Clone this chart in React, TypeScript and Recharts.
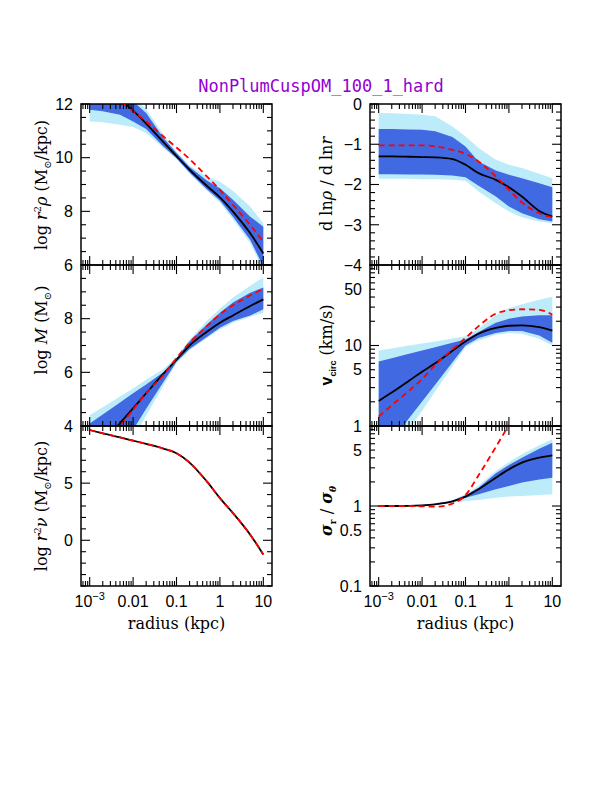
import React from 'react';
import { ComposedChart, Area, Line, XAxis, YAxis, ReferenceArea } from 'recharts';

const radius = [0.001, 0.002, 0.005, 0.01, 0.02, 0.05, 0.1, 0.2, 0.5, 1, 2, 5, 10];

// log r^2 rho
const rhoMed = [13.2, 12.75, 12.16, 11.75, 11.27, 10.58, 10.06, 9.55, 8.95, 8.52, 7.99, 7.18, 6.43];
const rhoTrue = [12.9, 12.5, 12.1, 11.73, 11.35, 10.79, 10.38, 9.95, 9.3, 8.8, 8.24, 7.49, 6.87];
const rhoIn = [[11.79, 12.6], [11.73, 12.7], [11.6, 12.5], [11.35, 12.1], [11.07, 11.66], [10.42, 10.73], [9.98, 10.17], [9.45, 9.65], [8.82, 9.15], [8.4, 8.86], [7.8, 8.43], [6.93, 7.8], [5.94, 7.43]];
const rhoOut = [[11.35, 12.7], [11.32, 12.8], [11.23, 12.6], [11.14, 12.22], [10.92, 11.81], [10.36, 10.85], [9.95, 10.22], [9.4, 9.7], [8.77, 9.3], [8.33, 9.11], [7.7, 8.76], [6.81, 8.18], [5.81, 7.55]];

// log M
const massMed = [2.83, 3.38, 4.11, 4.66, 5.22, 5.95, 6.47, 7.0, 7.51, 7.85, 8.12, 8.47, 8.72];
const massTrue = [2.6, 3.2, 4.0, 4.61, 5.22, 5.9, 6.53, 7.1, 7.72, 8.16, 8.5, 8.87, 9.1];
const massIn = [[1.36, 4.09], [2.11, 4.43], [3.12, 4.88], [3.86, 5.22], [4.64, 5.55], [5.64, 6.0], [6.39, 6.52], [6.87, 7.16], [7.32, 7.78], [7.66, 8.22], [7.91, 8.6], [8.12, 8.97], [8.35, 9.16]];
const massOut = [[0.73, 4.4], [1.57, 4.7], [2.68, 5.1], [3.52, 5.4], [4.39, 5.72], [5.5, 6.12], [6.34, 6.57], [6.82, 7.22], [7.27, 7.91], [7.6, 8.37], [7.85, 8.79], [8.07, 9.23], [8.22, 9.54]];

// log r^2 nu (tracer)
const nuMed = [9.65, 9.36, 9.01, 8.72, 8.43, 8.02, 7.62, 6.8, 5.15, 3.69, 2.38, 0.49, -1.25];
const nuTrue = [9.65, 9.36, 9.01, 8.72, 8.43, 8.02, 7.62, 6.8, 5.15, 3.69, 2.38, 0.49, -1.25];

// d ln rho / d ln r
const slopeMed = [-1.303, -1.303, -1.311, -1.32, -1.328, -1.369, -1.51, -1.718, -1.884, -2.066, -2.299, -2.656, -2.797];
const slopeTrue = [-1.029, -1.029, -1.029, -1.029, -1.054, -1.137, -1.237, -1.427, -1.801, -2.133, -2.448, -2.714, -2.813];
const slopeIn = [[-1.743, -0.622], [-1.743, -0.622], [-1.751, -0.631], [-1.751, -0.639], [-1.759, -0.68], [-1.776, -0.822], [-1.817, -1.054], [-2.033, -1.427], [-2.299, -1.651], [-2.548, -1.759], [-2.714, -1.842], [-2.863, -1.967], [-2.921, -2.066]];
const slopeOut = [[-1.859, -0.224], [-1.859, -0.232], [-1.859, -0.249], [-1.867, -0.266], [-1.867, -0.307], [-1.884, -0.556], [-1.909, -0.805], [-2.174, -1.095], [-2.465, -1.386], [-2.672, -1.51], [-2.813, -1.593], [-2.921, -1.734], [-2.963, -1.842]];

// v_circ (km/s)
const vMed = [2.05, 2.61, 3.65, 4.73, 6.01, 8.58, 11.2, 14.0, 16.5, 17.6, 17.8, 16.9, 15.3];
const vTrue = [1.31, 1.81, 2.74, 3.83, 5.73, 8.91, 12.4, 17.4, 24.9, 27.4, 28.2, 27.7, 24.2];
const vIn = [[0.406, 6.31], [0.656, 6.95], [1.25, 7.87], [2.01, 8.66], [3.25, 9.53], [6.19, 10.8], [10.0, 11.9], [12.4, 14.7], [14.3, 19.2], [15.1, 21.5], [15.1, 23.0], [13.3, 23.7], [10.8, 23.7]];
const vOut = [[0.256, 8.66], [0.438, 9.17], [0.908, 10.0], [1.55, 10.6], [2.69, 11.2], [5.52, 12.2], [9.53, 13.0], [11.5, 16.2], [13.6, 23.7], [14.3, 29.3], [14.0, 32.6], [12.1, 36.9], [10.0, 40.2]];

// sigma_r / sigma_theta
const sigMed = [1.0, 1.0, 1.005, 1.02, 1.05, 1.14, 1.31, 1.62, 2.26, 2.87, 3.48, 4.02, 4.3];
const sigTrue = [1.0, 1.0, 1.0, 0.99, 0.98, 1.07, 1.37, 2.42, 5.47, 10.3, null, null, null];
const sigIn = [[0.995, 1.005], [0.995, 1.005], [1.0, 1.01], [1.01, 1.03], [1.03, 1.07], [1.122, 1.166], [1.27, 1.36], [1.4, 1.69], [1.62, 2.56], [1.78, 3.25], [1.96, 4.02], [2.15, 5.21], [2.26, 6.19]];
const sigOut = [[0.99, 1.01], [0.99, 1.01], [0.995, 1.015], [1.0, 1.04], [1.02, 1.08], [1.1, 1.19], [1.155, 1.4], [1.19, 1.81], [1.27, 2.74], [1.31, 3.55], [1.33, 4.42], [1.37, 5.73], [1.4, 6.81]];

// axes
const xDomain = [Math.pow(10, -3.2), Math.pow(10, 1.2)];
const xMajor = [0.001, 0.01, 0.1, 1, 10];
const xMajorText = ['10|−3', '0.01', '0.1', '1', '10'];

const near = (a: number, b: number) => Math.abs(a - b) <= 1e-9 * Math.max(1, Math.abs(b));
const linTicks = (lo: number, hi: number, step: number) => {
  const out: number[] = [];
  for (let v = lo; v <= hi + 1e-9; v += step) out.push(Math.round(v * 1000) / 1000);
  return out;
};
const logTicks = (lo: number, hi: number) => {
  const out: number[] = [];
  for (let d = Math.floor(Math.log10(lo)) - 1; d <= Math.ceil(Math.log10(hi)); d++) {
    for (let k = 1; k <= 9; k++) {
      const v = parseFloat((k * Math.pow(10, d)).toPrecision(6));
      if (v >= lo * 0.999999 && v <= hi * 1.000001) out.push(v);
    }
  }
  return out;
};
const xTicks = logTicks(xDomain[0], xDomain[1]);

const rows = (med: any[], tru: any[], inner?: number[][], outer?: number[][]) =>
  radius.map((r, i) => ({ r, med: med[i], tru: tru[i], inner: inner ? inner[i] : undefined, outer: outer ? outer[i] : undefined }));

const ML = 60;
const MR = 12;
const MT = 12;
const MB = 45;
const PW = 191;
const sans = '"Liberation Sans", Arial, sans-serif';
const serif = '"DejaVu Serif", serif';

type PanelProps = {
  left: number;
  top: number;
  h: number;
  data: any[];
  bands: boolean;
  yDomain: number[];
  yLog?: boolean;
  yTicks: number[];
  yMajor: number[];
  yLabels: number[];
  xLabels: boolean;
};

const fmt = (v: number) => (v < 0 ? '−' + String(-v) : String(v));

const Panel = ({ left, top, h, data, bands, yDomain, yLog, yTicks, yMajor, yLabels, xLabels }: PanelProps) => {
  const W = PW + ML + MR;
  const H = h + MT + MB;
  const px0 = ML;
  const px1 = ML + PW;
  const py0 = MT;
  const py1 = MT + h;

  const renderX = (p: any) => {
    const x = p.x;
    const v = p.payload.value;
    const mi = xMajor.findIndex((t) => near(v, t));
    const len = mi >= 0 ? 9 : 5;
    const txt = mi >= 0 ? xMajorText[mi].split('|') : null;
    return (
      <g>
        <line x1={x} x2={x} y1={py1} y2={py1 - len} stroke="#000" strokeWidth={1.1} />
        <line x1={x} x2={x} y1={py0} y2={py0 + len} stroke="#000" strokeWidth={1.1} />
        {xLabels && txt && (
          <text x={x} y={py1 + 21} textAnchor="middle" fontFamily={sans} fontSize={16} fill="#000">
            {txt[0]}
            {txt[1] && (
              <tspan dy={-7} fontSize={11}>
                {txt[1]}
              </tspan>
            )}
          </text>
        )}
      </g>
    );
  };

  const renderY = (p: any) => {
    const y = p.y;
    const v = p.payload.value;
    const major = yMajor.some((t) => near(v, t));
    const len = major ? 9 : 5;
    const lab = yLabels.find((t) => near(v, t));
    return (
      <g>
        <line x1={px0} x2={px0 + len} y1={y} y2={y} stroke="#000" strokeWidth={1.1} />
        <line x1={px1} x2={px1 - len} y1={y} y2={y} stroke="#000" strokeWidth={1.1} />
        {lab !== undefined && (
          <text x={px0 - 8} y={y} dy="0.36em" textAnchor="end" fontFamily={sans} fontSize={16} fill="#000">
            {fmt(lab)}
          </text>
        )}
      </g>
    );
  };

  return (
    <div style={{ position: 'absolute', left: left - ML, top: top - MT, width: W, height: H }}>
      <ComposedChart width={W} height={H} data={data} margin={{ top: MT, right: MR, bottom: 0, left: 0 }}>
        <XAxis
          dataKey="r"
          type="number"
          scale="log"
          domain={xDomain}
          allowDataOverflow
          ticks={xTicks}
          interval={0}
          tick={renderX}
          tickLine={false}
          axisLine={false}
          height={MB}
        />
        <YAxis
          type="number"
          scale={yLog ? 'log' : 'linear'}
          domain={yDomain}
          allowDataOverflow
          ticks={yTicks}
          interval={0}
          tick={renderY}
          tickLine={false}
          axisLine={false}
          width={ML}
        />
        {bands && (
          <Area dataKey="outer" type="linear" stroke="none" fill="#bcebfa" fillOpacity={1} dot={false} activeDot={false} isAnimationActive={false} />
        )}
        {bands && (
          <Area dataKey="inner" type="linear" stroke="none" fill="#4169e1" fillOpacity={1} dot={false} activeDot={false} isAnimationActive={false} />
        )}
        <Line dataKey="med" type="monotone" stroke="#000" strokeWidth={1.8} dot={false} activeDot={false} isAnimationActive={false} />
        <Line dataKey="tru" type="monotone" stroke="#ff0000" strokeWidth={1.8} strokeDasharray="6 4" dot={false} activeDot={false} isAnimationActive={false} />
        <ReferenceArea x1={xDomain[0]} x2={xDomain[1]} y1={yDomain[0]} y2={yDomain[1]} fill="none" stroke="#000" strokeWidth={1.5} ifOverflow="visible" />
      </ComposedChart>
    </div>
  );
};

const LX = 81;
const RX = 370;

export default function App() {
  return (
    <div style={{ position: 'absolute', left: 0, top: 0, width: 612, height: 792, background: '#fff' }}>
      <Panel left={LX} top={104} h={161} data={rows(rhoMed, rhoTrue, rhoIn, rhoOut)} bands yDomain={[6, 12]}
        yTicks={linTicks(6, 12, 0.5)} yMajor={[6, 8, 10, 12]} yLabels={[6, 8, 10, 12]} xLabels={false} />
      <Panel left={LX} top={265} h={161} data={rows(massMed, massTrue, massIn, massOut)} bands yDomain={[4, 10]}
        yTicks={linTicks(4, 10, 0.5)} yMajor={[4, 6, 8, 10]} yLabels={[4, 6, 8]} xLabels={false} />
      <Panel left={LX} top={426} h={160} data={rows(nuMed, nuTrue)} bands={false} yDomain={[-4, 10]}
        yTicks={linTicks(-4, 10, 1)} yMajor={[0, 5, 10]} yLabels={[0, 5]} xLabels />
      <Panel left={RX} top={104} h={161} data={rows(slopeMed, slopeTrue, slopeIn, slopeOut)} bands yDomain={[-4, 0]}
        yTicks={linTicks(-4, 0, 0.2)} yMajor={[-4, -3, -2, -1, 0]} yLabels={[-4, -3, -2, -1, 0]} xLabels={false} />
      <Panel left={RX} top={265} h={161} data={rows(vMed, vTrue, vIn, vOut)} bands yDomain={[1, 100]} yLog
        yTicks={logTicks(1, 100)} yMajor={[1, 10, 100]} yLabels={[1, 5, 10, 50]} xLabels={false} />
      <Panel left={RX} top={426} h={160} data={rows(sigMed, sigTrue, sigIn, sigOut)} bands yDomain={[0.1, 10]} yLog
        yTicks={logTicks(0.1, 10)} yMajor={[0.1, 1, 10]} yLabels={[0.1, 0.5, 1, 5]} xLabels />

      <svg width={612} height={792} style={{ position: 'absolute', left: 0, top: 0, pointerEvents: 'none' }}>
        <text x={321} y={92} textAnchor="middle" fontFamily='"DejaVu Sans Mono", monospace' fontSize={17} fill="#9400d3">
          NonPlumCuspOM_100_1_hard
        </text>

        <g fontFamily={serif} fontSize={16} fill="#000">
          <text transform="translate(47,185) rotate(-90)" textAnchor="middle">
            log <tspan fontStyle="italic">r</tspan>
            <tspan dy={-6} fontSize={10}>2</tspan>
            <tspan dy={6} fontStyle="italic">ρ</tspan> (M<tspan dy={4} fontSize={10}>⊙</tspan>
            <tspan dy={-4}>/kpc)</tspan>
          </text>
          <text transform="translate(47,330) rotate(-90)" textAnchor="middle">
            log <tspan fontStyle="italic">M</tspan> (M<tspan dy={4} fontSize={10}>⊙</tspan>
            <tspan dy={-4}>)</tspan>
          </text>
          <text transform="translate(47,506) rotate(-90)" textAnchor="middle">
            log <tspan fontStyle="italic">r</tspan>
            <tspan dy={-6} fontSize={10}>2</tspan>
            <tspan dy={6} fontStyle="italic">ν</tspan> (M<tspan dy={4} fontSize={10}>⊙</tspan>
            <tspan dy={-4}>/kpc)</tspan>
          </text>

          <text transform="translate(332,184) rotate(-90)" textAnchor="middle">
            d ln<tspan fontStyle="italic">ρ</tspan> / d ln<tspan fontStyle="italic">r</tspan>
          </text>
          <text transform="translate(332,345) rotate(-90)" textAnchor="middle">
            <tspan fontFamily={sans} fontWeight="bold">v</tspan>
            <tspan dy={4} fontSize={9} fontFamily={sans} fontWeight="bold">circ</tspan>
            <tspan dy={-4}> (km/s)</tspan>
          </text>
          <text transform="translate(332,511) rotate(-90)" textAnchor="middle">
            <tspan fontStyle="italic" fontWeight="bold">σ</tspan>
            <tspan dy={4} fontSize={9} fontWeight="bold">r</tspan>
            <tspan dy={-4}> / </tspan>
            <tspan fontStyle="italic" fontWeight="bold">σ</tspan>
            <tspan dy={4} fontSize={9} fontStyle="italic" fontWeight="bold">θ</tspan>
          </text>

          <text x={176.5} y={629} textAnchor="middle">radius (kpc)</text>
          <text x={465.5} y={629} textAnchor="middle">radius (kpc)</text>
        </g>
      </svg>
    </div>
  );
}
